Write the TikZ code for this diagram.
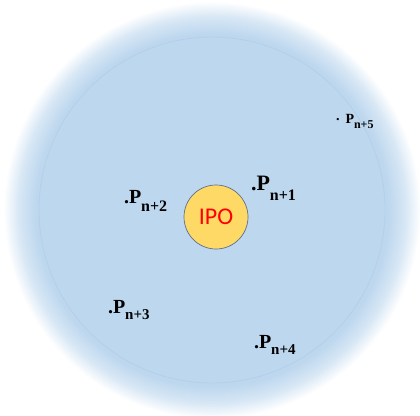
\documentclass[tikz,border=0pt]{standalone}
\usepackage{fontspec}
\setmainfont{Liberation Serif}
\newfontfamily\ipofont{Carlito}
\definecolor{bgblue}{HTML}{BDD7EE}
\definecolor{ringblue}{HTML}{B5CFE9}
\definecolor{ipofill}{HTML}{FFD966}
\definecolor{ipoline}{HTML}{5E6F8A}
\pgfdeclareradialshading{softdisc}{\pgfpointorigin}{color(0bp)=(bgblue); color(20.8bp)=(bgblue); color(22.8bp)=(bgblue!60!white); color(24.6bp)=(white); color(50bp)=(white)}
\newcommand{\plab}[5]{{\fontsize{#1}{#1}\selectfont\bfseries #5P}\raisebox{-#3pt}{\fontsize{#2}{#2}\selectfont\bfseries #4}}
\begin{document}
\begin{tikzpicture}[x=1pt,y=-1pt,
  plabel/.style={anchor=base west, inner sep=0pt, outer sep=0pt}]
\useasboundingbox (0,0) rectangle (420,415);
\shade[shading=softdisc] (212,210) circle (212);
\draw[ringblue, line width=0.8pt] (212,210) circle (173);
\node[circle, fill=ipofill, draw=ipoline, line width=0.7pt, minimum size=64pt, inner sep=0pt,
  text=red, font=\ipofont\fontsize{24}{24}\selectfont] (ipo) at (216,217) {IPO};
\node[plabel] (p1) at (251,190) {\plab{22}{16}{10}{n+1}{.}};
\node[plabel] (p2) at (124,203) {\plab{20}{16}{8}{n+2}{.}};
\node[plabel] (p3) at (108,313) {\plab{20}{15}{6}{n+3}{.}};
\node[plabel] (p4) at (254,348) {\plab{20}{15}{6}{n+4}{.}};
\node[plabel] (p5) at (336,123) {\plab{14}{12}{5}{n+5}{\raisebox{3pt}{.}\hspace{6pt}}};
\end{tikzpicture}
\end{document}
